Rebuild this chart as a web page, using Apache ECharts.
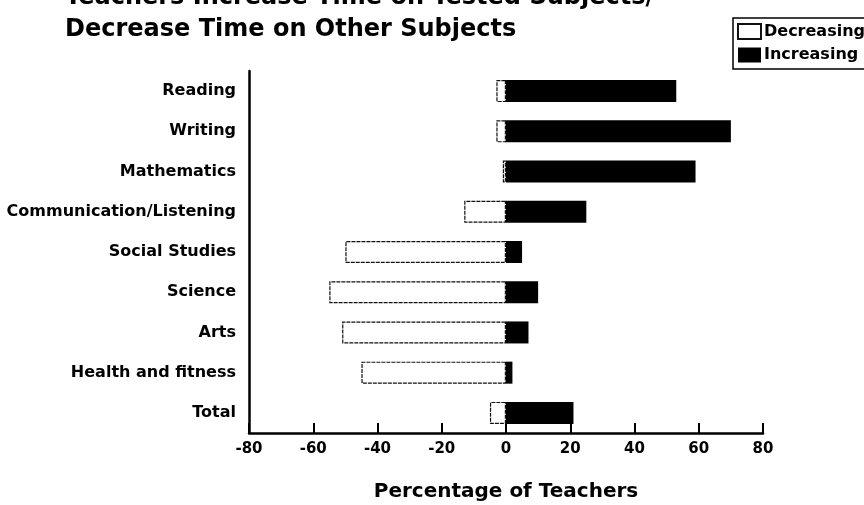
<!DOCTYPE html>
<html>
<head>
<meta charset="utf-8">
<script src="https://cdn.jsdelivr.net/npm/echarts@6/dist/echarts.min.js"></script>
<style>
html,body{margin:0;padding:0;background:#fff;}
#chart{width:864px;height:505px;}
</style>
</head>
<body>
<div id="chart"></div>
<script>
var categories = ['Reading', 'Writing', 'Mathematics', 'Communication/Listening', 'Social Studies', 'Science', 'Arts', 'Health and fitness', 'Total'];
var decreasing = [-3, -3, -1, -13, -50, -55, -51, -45, -5];
var increasing = [53, 70, 59, 25, 5, 10, 7, 2, 21];
var xTicks = { min: -80, max: 80, interval: 20 };

var FONT = '"DejaVu Sans", sans-serif';
var chart = echarts.init(document.getElementById('chart'));
chart.setOption({
  backgroundColor: '#fff',
  animation: false,
  title: {
    text: 'Teachers Increase Time on Tested Subjects/\nDecrease Time on Other Subjects',
    left: 65,
    top: -18,
    padding: 0,
    textStyle: { fontFamily: FONT, fontWeight: 'bold', fontSize: 24, color: '#000', lineHeight: 32 }
  },
  legend: {
    orient: 'vertical',
    left: 733,
    top: 18,
    padding: [5, 6, 6, 4],
    itemGap: 7,
    itemWidth: 23,
    itemHeight: 15,
    icon: 'rect',
    borderColor: '#000',
    borderWidth: 1.5,
    borderRadius: 0,
    backgroundColor: '#fff',
    textStyle: { fontFamily: FONT, fontWeight: 'bold', fontSize: 16, color: '#000', padding: [0, 0, 0, -2] },
    data: ['Decreasing', 'Increasing']
  },
  grid: { left: 249, right: 101, top: 71, bottom: 72, containLabel: false, outerBoundsMode: 'none' },
  xAxis: {
    type: 'value',
    min: xTicks.min,
    max: xTicks.max,
    interval: xTicks.interval,
    name: 'Percentage of Teachers',
    nameLocation: 'middle',
    nameGap: 49,
    nameTextStyle: { fontFamily: FONT, fontWeight: 'bold', fontSize: 20, color: '#000' },
    axisLine: { show: true, lineStyle: { color: '#000', width: 2.5 } },
    axisTick: { show: true, inside: true, length: 10, lineStyle: { color: '#000', width: 2 } },
    axisLabel: { color: '#000', fontFamily: FONT, fontWeight: 'bold', fontSize: 15, margin: 9 },
    splitLine: { show: false }
  },
  yAxis: {
    type: 'category',
    inverse: true,
    data: categories,
    axisLine: { show: true, onZero: false, lineStyle: { color: '#000', width: 2.5 } },
    axisTick: { show: false },
    axisLabel: { color: '#000', fontFamily: FONT, fontWeight: 'bold', fontSize: 16, margin: 13 }
  },
  series: [
    {
      name: 'Decreasing',
      type: 'bar',
      stack: 'total',
      barWidth: 22,
      data: decreasing,
      itemStyle: { color: '#fff', borderColor: '#111', borderWidth: 1.2, borderType: [4, 1] }
    },
    {
      name: 'Increasing',
      type: 'bar',
      stack: 'total',
      barWidth: 22,
      data: increasing,
      itemStyle: { color: '#000', borderColor: '#000', borderWidth: 0 }
    }
  ]
});
</script>
</body>
</html>
